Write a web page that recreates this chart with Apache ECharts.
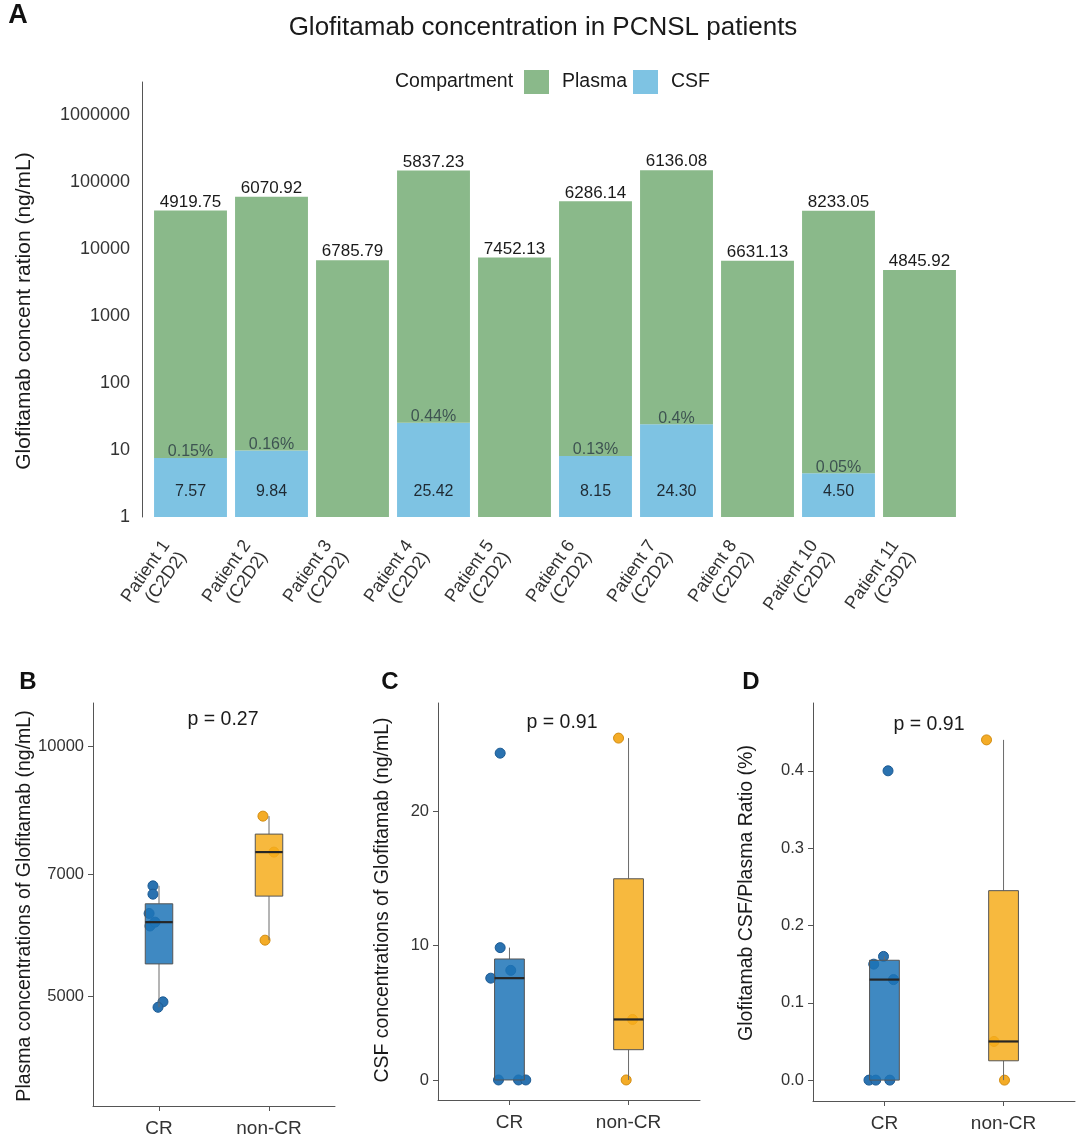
<!DOCTYPE html>
<html><head><meta charset="utf-8">
<script src="https://cdn.jsdelivr.net/npm/echarts@6/dist/echarts.min.js"></script>
<style>html,body{margin:0;padding:0;background:#fff}#c{width:1080px;height:1142px}</style>
</head><body><div id="c"></div>
<script>
// ---------- data ----------
const patients = ['Patient 1','Patient 2','Patient 3','Patient 4','Patient 5','Patient 6','Patient 7','Patient 8','Patient 10','Patient 11'];
const cycles = ['C2D2','C2D2','C2D2','C2D2','C2D2','C2D2','C2D2','C2D2','C2D2','C3D2'];
const plasma = [4919.75, 6070.92, 6785.79, 5837.23, 7452.13, 6286.14, 6136.08, 6631.13, 8233.05, 4845.92];
const csf = [7.57, 9.84, null, 25.42, null, 8.15, 24.30, null, 4.50, null];
const response = ['CR','CR','CR','non-CR','non-CR','CR','CR','CR','non-CR','CR'];
const groups = ['CR','non-CR'];
const logTicksA = [1, 10, 100, 1000, 10000, 100000, 1000000];
const plasmaTicksB = [5000, 7000, 10000];
const csfTicksC = [0, 10, 20];
const ratioTicksD = [0, 0.1, 0.2, 0.3, 0.4];
const pValues = ['p = 0.27', 'p = 0.91', 'p = 0.91'];
// horizontal jitter of each patient's dot, in category units
const jitterB = [0.036, -0.082, -0.055, -0.036, 0.045, -0.09, -0.036, -0.055, -0.055, -0.009];
const jitterC = [-0.157, -0.078, -0.092, -0.084, -0.02, 0.011, -0.078, 0.076, 0.034, 0.137];
const jitterD = [-0.09, -0.008, -0.13, -0.143, 0.008, 0.076, 0.03, -0.073, -0.08, 0.045];

// ---------- derived ----------
const FONT = 'Liberation Sans, Arial, Helvetica, sans-serif';
const csf0 = csf.map(v => v == null ? 0 : v);
// CSF/plasma ratio in %, rounded to 2 decimals as printed on panel A
const ratio = csf0.map((v, i) => Math.round(v / plasma[i] * 100 * 100) / 100);
const log10 = Math.log10;

function quantile(s, p) {
  const h = (s.length - 1) * p, lo = Math.floor(h), hi = Math.ceil(h);
  return s[lo] + (s[hi] - s[lo]) * (h - lo);
}
function boxStats(vals) {
  const s = [...vals].sort((a, b) => a - b);
  const q1 = quantile(s, .25), med = quantile(s, .5), q3 = quantile(s, .75), iqr = q3 - q1;
  const lo = Math.min(...s.filter(v => v >= q1 - 1.5 * iqr));
  const hi = Math.max(...s.filter(v => v <= q3 + 1.5 * iqr));
  return [lo, q1, med, q3, hi];
}
function groupVals(arr, g) { return arr.filter((v, i) => response[i] === g); }

const plasmaLog = plasma.map(log10);
const statsB = groups.map(g => boxStats(groupVals(plasmaLog, g)));
const statsC = groups.map(g => boxStats(groupVals(csf0, g)));
const statsD = groups.map(g => boxStats(groupVals(ratio, g)));

const ptColor = ['#2A72B0', '#F4AC27'];
const ptBorder = ['#1D5B93', '#D38D12'];
const boxFill = ['rgba(29,116,183,0.85)', 'rgba(246,173,28,0.85)'];
const BOX_HALF = 0.125;

function boxSeries(k, stats) {
  return {
    type: 'custom', xAxisIndex: k, yAxisIndex: k, z: 3, silent: true,
    data: stats.map((s, i) => [i + 1, ...s]),
    encode: { x: 0, y: [1, 2, 3, 4, 5] },
    renderItem: (params, api) => {
      const x = api.value(0), idx = params.dataIndex;
      const pMin = api.coord([x, api.value(1)]), pQ1 = api.coord([x, api.value(2)]);
      const pMed = api.coord([x, api.value(3)]), pQ3 = api.coord([x, api.value(4)]);
      const pMax = api.coord([x, api.value(5)]);
      const l = api.coord([x - BOX_HALF, api.value(2)])[0], r = api.coord([x + BOX_HALF, api.value(2)])[0];
      return { type: 'group', children: [
        { type: 'line', shape: { x1: pMin[0], y1: pMin[1], x2: pQ1[0], y2: pQ1[1] }, style: { stroke: '#6b6b6b', lineWidth: 1 } },
        { type: 'line', shape: { x1: pQ3[0], y1: pQ3[1], x2: pMax[0], y2: pMax[1] }, style: { stroke: '#6b6b6b', lineWidth: 1 } },
        { type: 'rect', shape: { x: l, y: pQ3[1], width: r - l, height: pQ1[1] - pQ3[1] }, style: { fill: boxFill[idx], stroke: '#555', lineWidth: 1 } },
        { type: 'line', shape: { x1: l, y1: pMed[1], x2: r, y2: pMed[1] }, style: { stroke: '#262626', lineWidth: 2.2 } }
      ]};
    }
  };
}
function dotSeries(k, values, jitter, g) {
  const data = [];
  values.forEach((v, i) => { if (response[i] === groups[g]) data.push([g + 1 + jitter[i], v]); });
  return { type: 'scatter', xAxisIndex: k, yAxisIndex: k, z: 2, symbolSize: 10, silent: true, data,
    itemStyle: { color: ptColor[g], borderColor: ptBorder[g], borderWidth: 1, opacity: 1 } };
}
function catXAxis(k) {
  return { type: 'value', gridIndex: k, min: 0.4, max: 2.6,
    axisLine: { show: true, onZero: false, lineStyle: { color: '#555', width: 1 } },
    axisTick: { show: true, length: 5, customValues: [1, 2], lineStyle: { color: '#555' } },
    axisLabel: { customValues: [1, 2], formatter: v => groups[Math.round(v) - 1], fontSize: 19, color: '#333', margin: 13, fontFamily: FONT },
    splitLine: { show: false } };
}
function valYAxis(k, min, max, ticks, fmt) {
  return { type: 'value', gridIndex: k, min, max,
    axisLine: { show: true, onZero: false, lineStyle: { color: '#555', width: 1 } },
    axisTick: { show: true, length: 5, customValues: ticks, lineStyle: { color: '#555' } },
    axisLabel: { customValues: ticks, formatter: fmt, fontSize: 16.5, color: '#333', margin: 9, fontFamily: FONT },
    splitLine: { show: false } };
}

const chart = echarts.init(document.getElementById('c'), null, { renderer: 'canvas' });
const txt = (text, x, y, font, opts = {}) => ({
  type: 'text', x, y, rotation: opts.rot || 0, silent: true,
  style: { text, font, fill: opts.fill || '#1a1a1a', align: opts.align || 'center', verticalAlign: 'middle',
           textAlign: opts.align || 'center', textVerticalAlign: 'middle' }
});

const option = {
  animation: false,
  backgroundColor: '#fff',
  textStyle: { fontFamily: FONT },
  grid: [
    { left: 150, top: 82, width: 810, height: 435 },
    { left: 93, top: 703, width: 242, height: 403 },
    { left: 438, top: 703, width: 262, height: 397 },
    { left: 813, top: 703, width: 262, height: 398 }
  ],
  legend: {
    data: ['Plasma', 'CSF'], left: 524, top: 70, padding: 0, itemWidth: 25, itemHeight: 24, itemGap: 6, icon: 'rect',
    textStyle: { fontSize: 19.5, color: '#1a1a1a', padding: [0, 0, 0, 8], fontFamily: FONT }
  },
  xAxis: [
    { type: 'category', gridIndex: 0, data: patients.map((p, i) => p + '\n(' + cycles[i] + ')'),
      axisLine: { show: false }, axisTick: { show: false },
      axisLabel: { interval: 0, rotate: 55, fontSize: 18, color: '#333', margin: 8, lineHeight: 20,
                   padding: [0, 28, 0, 0], fontFamily: FONT } },
    catXAxis(1), catXAxis(2), catXAxis(3)
  ],
  yAxis: [
    { type: 'value', gridIndex: 0, min: 0, max: 6.49, offset: 8,
      axisLine: { show: true, onZero: false, lineStyle: { color: '#555' } }, axisTick: { show: false },
      axisLabel: { customValues: logTicksA.map(log10), formatter: v => String(Math.round(Math.pow(10, v))),
                   fontSize: 18, color: '#333', margin: 12, fontFamily: FONT },
      splitLine: { show: false } },
    valYAxis(1, 3.5665, 4.0518, plasmaTicksB.map(log10), v => String(Math.round(Math.pow(10, v)))),
    valYAxis(2, -1.49, 28.03, csfTicksC, v => String(v)),
    valYAxis(3, -0.027, 0.4877, ratioTicksD, v => v.toFixed(1))
  ],
  series: [
    { name: 'CSF', type: 'bar', xAxisIndex: 0, yAxisIndex: 0, stack: 'conc', barWidth: '90%',
      data: csf.map(v => v == null ? null : log10(v)), itemStyle: { color: '#7EC3E3' },
      label: { show: true, position: 'insideBottom', distance: 17, fontSize: 16, color: '#1f2a33',
               formatter: p => csf[p.dataIndex].toFixed(2) } },
    { name: 'Plasma', type: 'bar', xAxisIndex: 0, yAxisIndex: 0, stack: 'conc', barWidth: '90%',
      data: plasmaLog, itemStyle: { color: '#8AB98A' },
      label: { show: true, position: 'top', distance: 0, fontSize: 17, color: '#1a1a1a',
               formatter: p => plasma[p.dataIndex].toFixed(2) } },
    { name: 'ratioLabel', type: 'scatter', xAxisIndex: 0, yAxisIndex: 0, symbolSize: 0, silent: true, z: 5,
      data: csf.map((v, i) => v == null ? null : [i, log10(v)]),
      label: { show: true, position: 'top', distance: -2, fontSize: 16, color: '#2b3a44',
               formatter: p => ratio[p.dataIndex] + '%' } },
    dotSeries(1, plasmaLog, jitterB, 0), dotSeries(1, plasmaLog, jitterB, 1), boxSeries(1, statsB),
    dotSeries(2, csf0, jitterC, 0), dotSeries(2, csf0, jitterC, 1), boxSeries(2, statsC),
    dotSeries(3, ratio, jitterD, 0), dotSeries(3, ratio, jitterD, 1), boxSeries(3, statsD)
  ],
  graphic: [
    txt('A', 18, 16, 'bold 27px ' + FONT, { fill: '#111' }),
    txt('Glofitamab concentration in PCNSL patients', 543, 28, '26px ' + FONT),
    txt('Compartment', 395, 82, '19.5px ' + FONT, { align: 'left' }),
    txt('Glofitamab concent ration (ng/mL)', 24, 311, '21px ' + FONT, { rot: Math.PI / 2 }),
    txt('B', 28, 682, 'bold 24px ' + FONT, { fill: '#111' }),
    txt('C', 390, 682, 'bold 24px ' + FONT, { fill: '#111' }),
    txt('D', 751, 682, 'bold 24px ' + FONT, { fill: '#111' }),
    txt('Plasma concentrations of Glofitamab (ng/mL)', 25, 906, '19.5px ' + FONT, { rot: Math.PI / 2 }),
    txt('CSF concentrations of Glofitamab (ng/mL)', 383, 900, '19.5px ' + FONT, { rot: Math.PI / 2 }),
    txt('Glofitamab CSF/Plasma Ratio (%)', 747, 893, '19.5px ' + FONT, { rot: Math.PI / 2 }),
    txt(pValues[0], 223, 720, '19.5px ' + FONT),
    txt(pValues[1], 562, 723, '19.5px ' + FONT),
    txt(pValues[2], 929, 725, '19.5px ' + FONT)
  ]
};
chart.setOption(option);
</script></body></html>
